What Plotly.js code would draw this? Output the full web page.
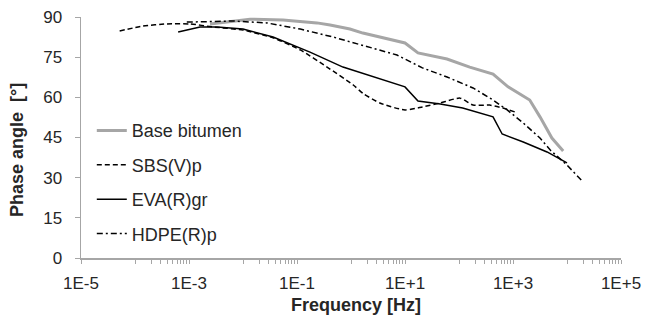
<!DOCTYPE html>
<html>
<head>
<meta charset="utf-8">
<script src="https://cdn.plot.ly/plotly-3.0.1.min.js"></script>
<style>html,body{margin:0;padding:0;background:#fff}#chart{width:646px;height:321px}</style>
</head>
<body>
<div id="chart"></div>
<script>
// Base bitumen
const baseFreq = [2.45e-3, 1.35e-2, 5.5e-2, 0.234, 0.41, 0.955, 1.66, 10, 17.4, 60, 158, 427, 810, 1175, 2040, 3160, 5250, 8500];
const basePhase = [87.4, 89.2, 88.9, 87.8, 87.0, 85.5, 84.0, 80.3, 76.6, 74.3, 71.3, 68.7, 63.9, 62.0, 59.0, 52.7, 44.8, 40.0];
// SBS(V)p
const sbsFreq = [5.2e-5, 1.4e-4, 3.9e-4, 1.05e-3, 2.75e-3, 1e-2, 3.6e-2, 0.115, 0.36, 1.1, 1.66, 3.5, 10, 21, 45, 105, 182, 370, 650, 1100];
const sbsPhase = [84.8, 86.6, 87.4, 87.4, 86.3, 85.1, 82.2, 77.7, 71.3, 64.6, 61.5, 57.8, 55.3, 56.4, 57.9, 59.7, 57.1, 57.1, 56.0, 54.5];
// EVA(R)gr
const evaFreq = [6.3e-4, 1.6e-3, 3.3e-3, 1e-2, 3.6e-2, 0.174, 0.71, 2.6, 10, 17.4, 45, 117, 427, 630, 1550, 4270, 10000];
const evaPhase = [84.4, 86.3, 86.3, 85.5, 82.5, 76.9, 71.3, 67.6, 63.9, 58.6, 57.5, 56.0, 52.7, 46.3, 43.3, 39.6, 35.5];
// HDPE(R)p
const hdpeFreq = [9.1e-4, 6.5e-3, 2.75e-2, 0.115, 0.47, 1.66, 3.5, 7.1, 21, 60, 182, 427, 780, 1550, 3160, 4900, 10000, 19000];
const hdpePhase = [88.1, 88.5, 87.8, 85.5, 82.5, 79.5, 77.7, 75.8, 71.0, 67.6, 63.5, 59.0, 55.3, 50.4, 44.8, 40.3, 34.7, 28.8];

const seriesNames = ['Base bitumen', 'SBS(V)p', 'EVA(R)gr', 'HDPE(R)p'];

const xTickVals = [1e-5, 1e-3, 1e-1, 1e1, 1e3, 1e5];
const xTickText = ['1E-5', '1E-3', '1E-1', '1E+1', '1E+3', '1E+5'];
const yTickVals = [0, 15, 30, 45, 60, 75, 90];
const minorDecades = [1e-4, 1e-2, 1, 1e2, 1e4];
const minorMult = [1, 2, 3, 4, 5, 6, 7, 8, 9];
const xMinorVals = [];
minorDecades.forEach(d => minorMult.forEach(m => xMinorVals.push(m * d)));

const font = 'Liberation Sans, Arial, sans-serif';
const axisGray = '#a6a6a6';
const textColor = '#262626';

const traces = [
  {x: baseFreq, y: basePhase, name: seriesNames[0], legendgroup: 'g1', mode: 'lines',
   line: {color: '#a6a6a6', width: 3}},
  {x: sbsFreq, y: sbsPhase, name: seriesNames[1], legendgroup: 'g2', mode: 'lines',
   line: {color: '#000', width: 1.5, dash: '5px,3px', shape: 'spline', smoothing: 0.6}},
  {x: evaFreq, y: evaPhase, name: seriesNames[2], legendgroup: 'g3', mode: 'lines',
   line: {color: '#000', width: 1.5}},
  {x: hdpeFreq, y: hdpePhase, name: seriesNames[3], legendgroup: 'g4', mode: 'lines',
   line: {color: '#000', width: 1.5, dash: '6px,3px,2px,3px'}}
];

const layout = {
  width: 646, height: 321,
  margin: {l: 81, r: 25, t: 17, b: 63, pad: 0},
  paper_bgcolor: '#fff', plot_bgcolor: '#fff',
  font: {family: font, size: 17, color: textColor},
  showlegend: true,
  legend: {x: 0.02, y: 0.605, xanchor: 'left', yanchor: 'top', traceorder: 'grouped',
           tracegroupgap: 8, font: {family: font, size: 18, color: textColor},
           bgcolor: 'rgba(0,0,0,0)'},
  xaxis: {type: 'log', range: [-5, 5], tickmode: 'array', tickvals: xTickVals, ticktext: xTickText,
          ticks: 'outside', ticklen: 4, tickcolor: axisGray, tickwidth: 1, ticklabelstandoff: 5,
          showline: true, linecolor: axisGray, linewidth: 1.5, showgrid: false, zeroline: false,
          tickfont: {family: font, size: 17, color: textColor},
          minor: {tickmode: 'array', tickvals: xMinorVals, ticks: 'outside', ticklen: 4,
                  tickcolor: axisGray, tickwidth: 1, showgrid: false}},
  yaxis: {range: [0, 90], tickmode: 'array', tickvals: yTickVals,
          ticks: 'outside', ticklen: 5, tickcolor: axisGray, tickwidth: 1, ticklabelstandoff: 9,
          showline: true, linecolor: axisGray, linewidth: 1.5, showgrid: false, zeroline: false,
          tickfont: {family: font, size: 17, color: textColor}},
  annotations: [
    {text: '<b>Phase angle\u00a0 [°]</b>', xref: 'paper', yref: 'paper',
     x: (17 - 81) / 540, y: (258 - 150) / 241, xanchor: 'center', yanchor: 'middle',
     textangle: -90, showarrow: false, font: {family: font, size: 18, color: textColor}},
    {text: '<b>Frequency [Hz]</b>', xref: 'paper', yref: 'paper',
     x: (356 - 81) / 540, y: (258 - 305) / 241, xanchor: 'center', yanchor: 'middle',
     showarrow: false, font: {family: font, size: 18, color: textColor}}
  ]
};

Plotly.newPlot('chart', traces, layout, {displayModeBar: false, staticPlot: true});
</script>
</body>
</html>
